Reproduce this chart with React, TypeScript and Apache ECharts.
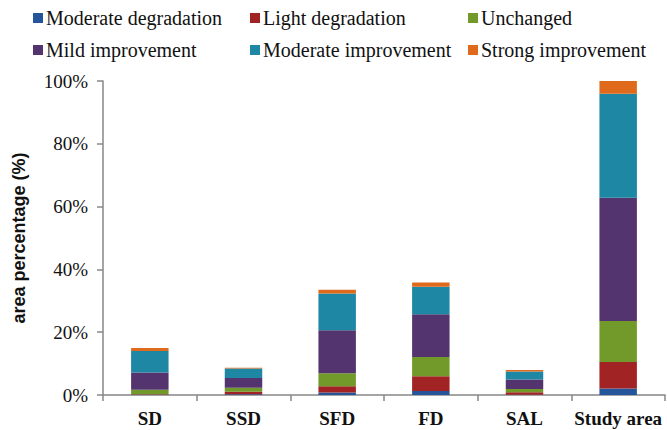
import React, { useEffect, useRef } from "react";
import * as echarts from "echarts";

const categories = ["SD", "SSD", "SFD", "FD", "SAL", "Study area"];
const moderateDegradation = [0.1, 0.2, 0.8, 1.3, 0.1, 2.1];
const lightDegradation = [0.1, 0.8, 2.0, 4.7, 0.8, 8.4];
const unchanged = [1.5, 1.3, 4.1, 6.1, 1.0, 13.1];
const mildImprovement = [5.5, 3.1, 13.7, 13.6, 3.0, 39.2];
const moderateImprovement = [6.8, 3.0, 11.7, 8.8, 2.6, 33.1];
const strongImprovement = [1.0, 0.3, 1.2, 1.3, 0.5, 4.1];
const yTicks = [0, 20, 40, 60, 80, 100];

const SERIF = "'Liberation Serif', 'Times New Roman', 'DejaVu Serif', serif";

const seriesDefs = [
  { name: "Moderate degradation", data: moderateDegradation, color: "#24559B" },
  { name: "Light degradation", data: lightDegradation, color: "#A12323" },
  { name: "Unchanged", data: unchanged, color: "#729A2B" },
  { name: "Mild improvement", data: mildImprovement, color: "#53346F" },
  { name: "Moderate improvement", data: moderateImprovement, color: "#1E87A3" },
  { name: "Strong improvement", data: strongImprovement, color: "#E06A1C" },
];

const legendCols = [
  { left: 33, names: ["Moderate degradation", "Mild improvement"] },
  { left: 250, names: ["Light degradation", "Moderate improvement"] },
  { left: 468, names: ["Unchanged", "Strong improvement"] },
];

export default function App() {
  const ref = useRef<HTMLDivElement>(null);
  useEffect(() => {
    if (!ref.current) return;
    const chart = echarts.init(ref.current, null, { renderer: "svg" });
    chart.setOption({
      animation: false,
      backgroundColor: "#ffffff",
      legend: legendCols.map((c) => ({
        orient: "vertical",
        left: c.left,
        top: 7,
        padding: 0,
        itemWidth: 10,
        itemHeight: 10,
        itemGap: 10,
        icon: "rect",
        data: c.names,
        textStyle: {
          fontFamily: SERIF,
          fontSize: 20,
          color: "#111",
          padding: [0, 0, 0, -2],
          lineHeight: 22,
        },
        selectedMode: false,
      })),
      grid: { left: 103, right: 2, top: 81, bottom: 35, containLabel: false },
      xAxis: {
        type: "category",
        data: categories,
        axisLine: { lineStyle: { color: "#878787", width: 1.5 } },
        axisTick: { show: true, length: 6, alignWithLabel: false, lineStyle: { color: "#878787", width: 1.5 } },
        axisLabel: {
          interval: 0,
          fontFamily: SERIF,
          fontWeight: "bold",
          fontSize: 19,
          color: "#111",
          margin: 14,
        },
      },
      yAxis: {
        type: "value",
        min: yTicks[0],
        max: yTicks[yTicks.length - 1],
        interval: 20,
        name: "area percentage (%)",
        nameLocation: "middle",
        nameGap: 75,
        nameTextStyle: {
          fontFamily: "'Liberation Sans', Arial, sans-serif",
          fontWeight: "bold",
          fontSize: 18,
          color: "#111",
        },
        axisLine: { show: true, lineStyle: { color: "#878787", width: 1.5 } },
        axisTick: { show: true, inside: false, length: 6, lineStyle: { color: "#878787", width: 1.5 } },
        splitLine: { show: false },
        axisLabel: {
          formatter: "{value}%",
          fontFamily: SERIF,
          fontSize: 19,
          color: "#111",
          margin: 15,
        },
      },
      series: seriesDefs.map((s) => ({
        name: s.name,
        type: "bar",
        stack: "total",
        barWidth: "40%",
        data: s.data,
        itemStyle: { color: s.color },
      })),
    });
    return () => chart.dispose();
  }, []);
  return <div ref={ref} style={{ width: 667, height: 430, position: "absolute", left: 0, top: 0 }} />;
}
